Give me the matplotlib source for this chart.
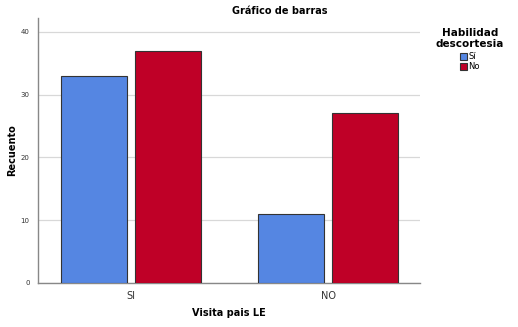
import matplotlib.pyplot as plt
import numpy as np

categories = ["SI", "NO"]
series_names = ["Sí", "No"]
si_counts = [33, 11]
no_counts = [37, 27]
colors = ["#5586e2", "#bf0027"]

fig = plt.figure(figsize=(5.18, 3.27), dpi=100)
ax = fig.add_axes([0.0734, 0.1346, 0.7375, 0.8104])

x = np.arange(len(categories))
width = 0.335
offset = 0.187
ax.bar(x - offset, si_counts, width, color=colors[0], edgecolor="#333333",
       linewidth=0.8, label=series_names[0], zorder=3)
ax.bar(x + offset, no_counts, width, color=colors[1], edgecolor="#333333",
       linewidth=0.8, label=series_names[1], zorder=3)

ax.set_xlim(-0.472, 1.467)
ax.set_ylim(0, 42.2)
ax.set_yticks([0, 10, 20, 30, 40])
ax.yaxis.grid(True, color="#d8d8d8", linewidth=0.9, zorder=0)
ax.set_xticks(x)
ax.set_xticklabels(categories, fontsize=7, color="#333333")
ax.tick_params(axis="y", labelsize=5, colors="#333333", length=0, pad=6)
ax.tick_params(axis="x", length=0, pad=6)
for side in ["top", "right"]:
    ax.spines[side].set_visible(False)
for side in ["left", "bottom"]:
    ax.spines[side].set_color("#888888")
    ax.spines[side].set_linewidth(1.0)

ax.set_xlabel("Visita pais LE", fontsize=7, fontweight="bold")
ax.xaxis.set_label_coords(0.5, -0.093)
ax.set_ylabel("Recuento", fontsize=7, fontweight="bold")
ax.yaxis.set_label_coords(-0.055, 0.5)
fig.text(0.54, 0.966, "Gráfico de barras", ha="center", va="center",
         fontsize=7, fontweight="bold")

leg = fig.legend(loc="upper center", bbox_to_anchor=(0.907, 0.915), frameon=False,
                 title="Habilidad\ndescortesia", fontsize=6,
                 title_fontproperties={"size": 7.5, "weight": "bold"},
                 handlelength=0.8, handleheight=0.9, handletextpad=0.2,
                 labelspacing=0.15, borderaxespad=0, borderpad=0)
leg.get_title().set_multialignment("center")
leg._legend_box.sep = 2

fig.savefig("out.png", dpi=100)
